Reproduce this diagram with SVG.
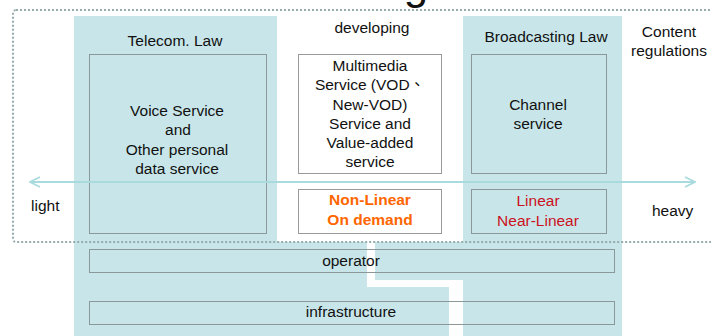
<svg xmlns="http://www.w3.org/2000/svg" width="711" height="336" viewBox="0 0 711 336">
  <style>
    text { font-family: "Liberation Sans", Arial, "Noto Sans CJK TC", sans-serif; font-size: 15.5px; fill: #111; }
    .c { text-anchor: middle; }
    .zone { fill: #c8e6e9; }
    .box { fill: none; stroke: #8a9899; stroke-width: 1; }
    .wbox { fill: #ffffff; stroke: #9a9a9a; stroke-width: 1; }
    .ondemand { fill: #ff6600; font-weight: bold; }
    .linear { fill: #cc1122; }
    .frame { fill: none; stroke: #94acad; stroke-width: 2; stroke-dasharray: 2 2; }
    .axis { stroke: #a9dadd; stroke-width: 2; fill: none; }
  </style>
  <defs>
    <marker id="chev" viewBox="0 0 12 12" refX="11" refY="6" markerWidth="12" markerHeight="12" markerUnits="userSpaceOnUse" orient="auto-start-reverse">
      <path d="M1,1 L11,6 L1,11" fill="none" stroke="#a9dadd" stroke-width="1.6"/>
    </marker>
  </defs>

  <rect width="711" height="336" fill="#ffffff"/>

  <!-- title, mostly above the visible area -->
  <text x="416" y="-1" class="c" style="font-size:44px">g</text>

  <!-- regulated zones -->
  <g id="telecom-zone">
    <path class="zone" d="M74,16 H277 V242 H367 V287 H449 V336 H74 Z"/>
  </g>
  <g id="broadcast-zone">
    <path class="zone" d="M463,16 H622 V336 H463 V280 H375 V242 H463 Z"/>
  </g>

  <!-- content regulation frame -->
  <rect class="frame" x="13" y="10" width="712" height="232" rx="3"/>

  <g id="telecom-law"><text x="175" y="46" class="c">Telecom. Law</text></g>
  <g id="developing"><text x="372" y="33" class="c">developing</text></g>
  <g id="broadcasting-law"><text x="546" y="42" class="c">Broadcasting Law</text></g>
  <g id="content-regulations">
    <text x="669" y="37" class="c">Content</text>
    <text x="669" y="56" class="c">regulations</text>
  </g>

  <g id="voice-service">
    <rect class="box" x="89.5" y="54.5" width="177" height="179"/>
    <text x="177" y="116" class="c">Voice Service</text>
    <text x="178" y="135" class="c">and</text>
    <text x="177" y="155" class="c">Other personal</text>
    <text x="177" y="174" class="c">data service</text>
  </g>

  <g id="multimedia-service">
    <rect class="wbox" x="298.5" y="54.5" width="143" height="119"/>
    <text x="370" y="70.5" class="c">Multimedia</text>
    <text x="370" y="90" class="c">Service (VOD、</text>
    <text x="370" y="109.5" class="c">New-VOD)</text>
    <text x="370" y="129" class="c">Service and</text>
    <text x="370" y="148" class="c">Value-added</text>
    <text x="370" y="167" class="c">service</text>
  </g>

  <g id="non-linear">
    <rect class="wbox" x="298.5" y="189.5" width="143" height="44"/>
    <text x="370" y="205" class="c ondemand">Non-Linear</text>
    <text x="370" y="225" class="c ondemand">On demand</text>
  </g>

  <g id="channel-service">
    <rect class="box" x="471.5" y="54.5" width="135" height="119"/>
    <text x="538" y="110" class="c">Channel</text>
    <text x="538" y="129" class="c">service</text>
  </g>

  <g id="linear">
    <rect class="box" x="471.5" y="189.5" width="135" height="44"/>
    <text x="538" y="206" class="c linear">Linear</text>
    <text x="538" y="226" class="c linear">Near-Linear</text>
  </g>

  <g id="operator">
    <rect class="box" x="89.5" y="249.5" width="525" height="23"/>
    <text x="351" y="266" class="c">operator</text>
  </g>

  <g id="infrastructure">
    <rect class="box" x="89.5" y="301.5" width="525" height="23"/>
    <text x="351" y="317" class="c">infrastructure</text>
  </g>

  <g id="light"><text x="31" y="211">light</text></g>
  <g id="heavy"><text x="652" y="216">heavy</text></g>

  <g id="connectors">
    <line class="axis" x1="30" y1="182" x2="695" y2="182" marker-start="url(#chev)" marker-end="url(#chev)"/>
  </g>
</svg>
